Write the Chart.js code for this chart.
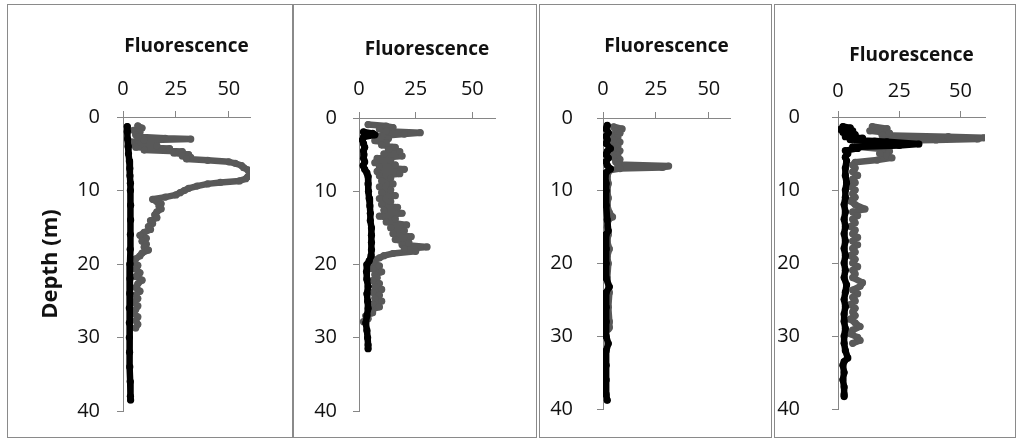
<!DOCTYPE html>
<html>
<head>
<meta charset="utf-8">
<title>Fluorescence profiles</title>
<script src="https://cdn.jsdelivr.net/npm/chart.js@4.4.1/dist/chart.umd.min.js"></script>
<style>
  html, body { margin: 0; padding: 0; background: #fff; }
  body { width: 1016px; height: 439px; position: relative; overflow: hidden; }
  .panel { position: absolute; top: 4px; height: 432px; border: 1px solid #8a8a8a; background: #fff; }
  .panel canvas { display: block; }
</style>
</head>
<body>
<div class="panel" style="left:7px;width:284px"><canvas id="c1" width="284" height="432"></canvas></div>
<div class="panel" style="left:293px;width:242px"><canvas id="c2" width="242" height="432"></canvas></div>
<div class="panel" style="left:539px;width:231px"><canvas id="c3" width="231" height="432"></canvas></div>
<div class="panel" style="left:774px;width:240px"><canvas id="c4" width="240" height="432"></canvas></div>

<script>
/* axis ticks */
const fluorTicks = [0, 25, 50];
const depthTicks = [0, 10, 20, 30, 40];

/* profiles: [depth (m), fluorescence] — grey and black casts per station */
const st1Grey = [
  [1.2, 7], [1.5, 9], [1.8, 5], [2.1, 8], [2.4, 6], [2.7, 7], [2.9, 20], [3.0, 32], [3.15, 10],
  [3.4, 4], [3.7, 3], [3.9, 16], [4.1, 6], [4.3, 22], [4.5, 10], [4.7, 28], [4.9, 24], [5.1, 31],
  [5.3, 28], [5.5, 32], [5.7, 30], [5.9, 40], [6.1, 50], [6.3, 53], [6.6, 56], [6.9, 57], [7.2, 59],
  [7.5, 60], [7.8, 60], [8.1, 59], [8.4, 58], [8.7, 55], [8.9, 46], [9.1, 40], [9.4, 35], [9.7, 31],
  [10.0, 29], [10.3, 27], [10.6, 25], [10.9, 20], [11.2, 14], [11.5, 16], [11.8, 18], [12.1, 17],
  [12.5, 18], [12.9, 16], [13.3, 15], [13.7, 16], [14.1, 13], [14.5, 14], [14.9, 12], [15.3, 13],
  [15.7, 10], [16.1, 8], [16.5, 11], [16.9, 9], [17.3, 11], [17.7, 10], [18.1, 12], [18.5, 9],
  [18.9, 8], [19.3, 6], [19.7, 5], [20.2, 7], [20.7, 6], [21.2, 8], [21.7, 6], [22.2, 9], [22.7, 7],
  [23.2, 6], [23.7, 8], [24.2, 6], [24.7, 7], [25.2, 5], [25.7, 7], [26.2, 6], [26.7, 5], [27.2, 7],
  [27.7, 6], [28.2, 7], [28.7, 6]
];
const st1Black = [
  [1.3, 2], [2, 2], [3, 2.2], [4, 2.4], [5, 2.6], [6, 3], [7, 3.2], [8, 3.3], [9, 3.5], [10, 3.5],
  [12, 3.6], [14, 3.6], [16, 3.5], [18, 3.4], [20, 3.3], [22, 3.3], [24, 3.2], [26, 3], [28, 3],
  [30, 3], [32, 3.1], [34, 3.2], [36, 3.4], [38, 3.5], [38.5, 3.6]
];

const st2Grey = [
  [0.9, 4], [1.1, 12], [1.3, 15], [1.5, 9], [1.8, 12], [2.0, 27], [2.2, 20], [2.5, 8], [2.8, 13],
  [3.1, 7], [3.4, 12], [3.7, 10], [4.0, 16], [4.3, 13], [4.6, 18], [4.9, 11], [5.2, 19], [5.5, 8],
  [5.8, 14], [6.1, 7], [6.4, 16], [6.7, 9], [7.0, 20], [7.3, 8], [7.6, 18], [7.9, 9], [8.2, 14],
  [8.6, 10], [9.0, 15], [9.4, 9], [9.8, 14], [10.2, 10], [10.6, 16], [11.0, 9], [11.4, 14],
  [11.8, 10], [12.2, 17], [12.6, 11], [13.0, 19], [13.4, 9], [13.8, 16], [14.2, 12], [14.6, 21],
  [15.0, 14], [15.4, 20], [15.8, 15], [16.2, 23], [16.6, 16], [17.0, 22], [17.3, 19], [17.6, 30],
  [17.9, 20], [18.2, 25], [18.5, 15], [18.8, 11], [19.1, 9], [19.4, 7], [19.8, 6], [20.2, 9],
  [20.6, 6], [21.0, 10], [21.4, 7], [21.8, 8], [22.2, 6], [22.6, 9], [23.0, 7], [23.4, 10],
  [23.8, 6], [24.2, 9], [24.6, 7], [25.0, 10], [25.4, 6], [25.8, 9], [26.2, 5], [26.6, 6],
  [27.0, 3], [27.4, 4], [27.8, 2]
];
const st2Black = [
  [1.9, 2], [2.1, 6], [2.3, 7], [2.6, 2], [3, 1.5], [3.5, 2], [4, 2.5], [4.5, 2], [5, 2.2], [5.5, 2],
  [6, 2.5], [6.5, 1.8], [7, 2.5], [7.5, 3.5], [8, 4], [9, 4], [10, 4.2], [11, 4.5], [12, 4.8],
  [13, 5], [14, 5], [15, 5.5], [16, 5.5], [17, 5.5], [18, 5.5], [18.8, 5.3], [19.5, 4.5], [20, 3.5],
  [21, 3.3], [22, 3.5], [23, 4], [24, 3.5], [25, 3.8], [26, 4], [27, 3.5], [28, 3], [29, 3.5],
  [30, 3.8], [31, 4], [31.5, 4]
];

const st3Grey = [
  [1.2, 5], [1.5, 9], [1.8, 6], [2.1, 8], [2.4, 4], [2.7, 7], [3.0, 5], [3.3, 8], [3.6, 4], [3.9, 7],
  [4.2, 5], [4.5, 8], [4.8, 4], [5.1, 7], [5.4, 5], [5.7, 8], [6.0, 6], [6.4, 7], [6.6, 31], [6.8, 28],
  [6.95, 8], [7.2, 3], [8, 2], [9, 2.5], [10, 2], [11, 2.5], [12, 2], [13, 3], [13.6, 4.5], [14, 2.5],
  [15, 2], [16, 2.5], [17, 2], [18, 3], [19, 2], [20, 2.5], [22, 2], [24, 3], [26, 2.5], [28, 3],
  [28.8, 3], [29, 2.5]
];
const st3Black = [
  [1.0, 2], [1.5, 1.5], [2, 2.5], [2.5, 1.5], [3, 2], [3.5, 1.5], [4.2, 3.5], [4.6, 2], [5, 1.5],
  [5.5, 2.5], [6, 1.5], [6.5, 2], [7, 3.5], [7.5, 1.5], [8, 1], [9, 1.5], [10, 1.5], [12, 1.5],
  [14, 2], [15.5, 2.5], [16, 1.5], [18, 1.5], [20, 1.5], [22, 1.5], [23.2, 3], [24, 1.5], [26, 1.5],
  [28, 1.5], [30, 1.5], [31, 2.5], [32, 1.5], [34, 1.5], [36, 1.5], [38, 1.5], [38.8, 2]
];

const st4Grey = [
  [1.3, 14], [1.6, 20], [1.9, 13], [2.2, 21], [2.5, 18], [2.7, 45], [2.85, 59.5], [3.0, 57],
  [3.15, 40], [3.3, 15], [3.5, 8], [3.8, 12], [4.1, 9], [4.4, 18], [4.7, 21], [5.0, 17], [5.3, 20],
  [5.6, 22], [5.9, 16], [6.2, 7], [6.6, 6], [7.0, 7], [7.5, 6], [8.0, 8], [8.5, 6], [9.0, 7],
  [9.5, 5], [10.0, 7], [10.5, 6], [11.0, 7], [11.5, 5], [12.0, 7], [12.6, 11], [13.0, 6], [13.5, 8],
  [14.0, 6], [14.5, 7], [15.0, 5], [15.5, 7], [16.0, 6], [16.5, 8], [17.0, 6], [17.5, 8], [18.0, 6],
  [18.5, 7], [19.0, 5], [19.5, 7], [20.0, 6], [20.5, 8], [21.0, 6], [21.5, 7], [22.0, 6], [22.7, 10],
  [23.2, 9], [23.7, 6], [24.2, 8], [24.7, 6], [25.2, 7], [25.7, 5], [26.2, 7], [26.7, 6], [27.2, 7],
  [27.7, 5], [28.2, 7], [28.7, 9], [29.2, 6], [29.7, 5], [30.2, 8], [30.6, 9], [31.0, 6]
];
const st4Black = [
  [1.3, 2], [1.5, 5], [1.7, 1], [1.9, 6], [2.1, 2], [2.4, 7], [2.7, 3], [2.9, 10], [3.1, 5],
  [3.4, 20], [3.7, 33], [3.9, 25], [4.1, 6], [4.3, 8], [4.6, 3], [5.0, 4], [5.5, 3], [6, 3.5],
  [7, 3], [8, 3], [9, 3.5], [10, 3], [11, 3], [12, 2.5], [13, 3], [14, 2.5], [15, 3], [16, 2.5],
  [17, 3], [18, 2.5], [19, 3], [20, 2.5], [21, 3], [22, 2.5], [23, 3.5], [24, 3], [25, 2.5], [26, 3],
  [27, 2.5], [28, 2.5], [29, 3], [30, 2.5], [31, 2.5], [32, 3], [33, 4], [33.5, 2.5], [34, 2],
  [35, 2.5], [36, 2], [37, 2.5], [38, 2.5], [38.3, 2.5]
];

const AXIS = "#868686";
const GREY = "#595959";
const FONT = "'Open Sans', 'Noto Sans', sans-serif";

/* per-panel box geometry (canvas px) */
const panels = [
  { id: "c1", grey: st1Grey, black: st1Black, yWidth: 115, xHeight: 112, padRight: 42, padBottom: 26, yPad: 17, tickPad: 10, titleTop: 30, depthTitle: true },
  { id: "c2", grey: st2Grey, black: st2Black, yWidth: 65, xHeight: 113, padRight: 41, padBottom: 26, yPad: 16, tickPad: 11, titleTop: 33, depthTitle: false },
  { id: "c3", grey: st3Grey, black: st3Black, yWidth: 63, xHeight: 113, padRight: 41, padBottom: 28, yPad: 24, tickPad: 11, titleTop: 30, depthTitle: false },
  { id: "c4", grey: st4Grey, black: st4Black, yWidth: 63, xHeight: 112, padRight: 30, padBottom: 28, yPad: 32, tickPad: 8, titleTop: 39, depthTitle: false }
];

function toPoints(rows) {
  return rows.map(r => ({ x: r[1], y: r[0] }));
}

function profileSet(rows, color, order) {
  return {
    data: toPoints(rows),
    showLine: true,
    borderColor: color,
    backgroundColor: color,
    borderWidth: 6.5,
    borderJoinStyle: "round",
    borderCapStyle: "round",
    pointRadius: 3.6,
    pointBorderWidth: 0,
    pointHoverRadius: 3.6,
    order: order
  };
}

/* keep tick-label overflow from shrinking the plot area */
function noOverflow(s) {
  s.paddingTop = 0;
  s.paddingBottom = 0;
  s.paddingLeft = 0;
  s.paddingRight = 0;
}

function drawPanel(p) {
  const ctx = document.getElementById(p.id);
  new Chart(ctx, {
    type: "scatter",
    data: {
      datasets: [
        profileSet(p.black, "#000000", 0),
        profileSet(p.grey, GREY, 1)
      ]
    },
    options: {
      responsive: false,
      animation: false,
      events: [],
      layout: { padding: { left: 0, top: 0, right: p.padRight, bottom: p.padBottom } },
      plugins: { legend: { display: false }, tooltip: { enabled: false } },
      scales: {
        x: {
          type: "linear",
          position: "top",
          min: 0,
          max: 60,
          afterBuildTicks: s => { s.ticks = fluorTicks.map(v => ({ value: v })); },
          afterFit: s => { s.height = p.xHeight; noOverflow(s); },
          grid: { drawOnChartArea: false, drawTicks: true, tickLength: 6, color: AXIS },
          border: { color: AXIS, width: 1 },
          ticks: { padding: p.tickPad, color: "#111", maxRotation: 0, font: { family: FONT, size: 20 } },
          title: {
            display: true,
            text: "Fluorescence",
            color: "#111",
            font: { family: FONT, size: 19, weight: "bold" },
            padding: { top: p.titleTop, bottom: 0 }
          }
        },
        y: {
          type: "linear",
          reverse: true,
          min: 0,
          max: 40,
          afterBuildTicks: s => { s.ticks = depthTicks.map(v => ({ value: v })); },
          afterFit: s => { s.width = p.yWidth; noOverflow(s); },
          grid: { drawOnChartArea: false, drawTicks: true, tickLength: 6, color: AXIS },
          border: { color: AXIS, width: 1 },
          ticks: { padding: p.yPad, color: "#111", font: { family: FONT, size: 20 } },
          title: {
            display: p.depthTitle,
            text: "Depth (m)",
            color: "#111",
            font: { family: FONT, size: 22, weight: "bold" },
            padding: { top: 30, bottom: 0 }
          }
        }
      }
    }
  });
}

panels.forEach(drawPanel);
</script>
</body>
</html>
